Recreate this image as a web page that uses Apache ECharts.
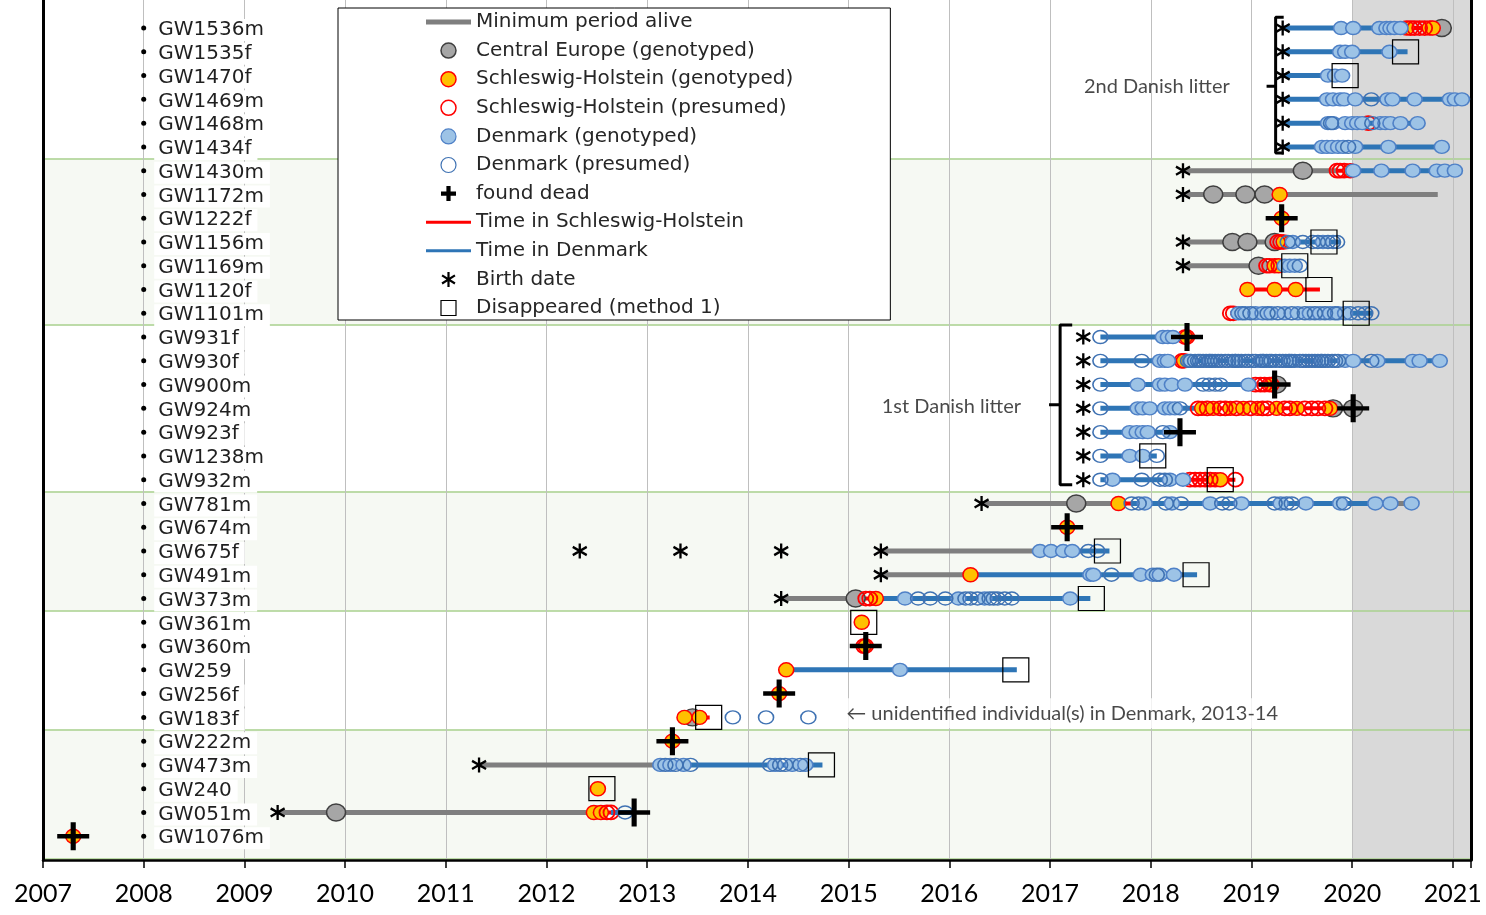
<!DOCTYPE html>
<html>
<head>
<meta charset="utf-8">
<script src="https://cdn.jsdelivr.net/npm/echarts@6/dist/echarts.min.js"></script>
<style>
  html, body { margin: 0; padding: 0; background: #fff; }
  #chart { width: 1486px; height: 915px; }
</style>
</head>
<body>
<div id="chart"></div>
<script>
// wolves, top to bottom
var rowNames = ['GW1536m', 'GW1535f', 'GW1470f', 'GW1469m', 'GW1468m', 'GW1434f', 'GW1430m', 'GW1172m',
  'GW1222f', 'GW1156m', 'GW1169m', 'GW1120f', 'GW1101m', 'GW931f', 'GW930f', 'GW900m', 'GW924m', 'GW923f',
  'GW1238m', 'GW932m', 'GW781m', 'GW674m', 'GW675f', 'GW491m', 'GW373m', 'GW361m', 'GW360m', 'GW259',
  'GW256f', 'GW183f', 'GW222m', 'GW473m', 'GW240', 'GW051m', 'GW1076m'];

var yearTicks = [2007, 2008, 2009, 2010, 2011, 2012, 2013, 2014, 2015, 2016, 2017, 2018, 2019, 2020, 2021];

// group boundaries (between rows) and shaded groups
var groupEdges = [29.5, 22.5, 15.5, 10.5, 5.5, 0.06];
var tintedGroups = [[22.5, 29.5], [10.5, 15.5], [0, 5.5]];
var greyFrom = 2020;

// [wolf, start, end] in decimal years
var grayLines = [
  ['GW1536m', 2020.80, 2020.89], ['GW1430m', 2018.32, 2019.85], ['GW1172m', 2018.32, 2020.85],
  ['GW1156m', 2018.32, 2019.23], ['GW1169m', 2018.32, 2019.07], ['GW924m', 2019.81, 2020.01],
  ['GW781m', 2016.32, 2017.68], ['GW781m', 2020.38, 2020.59], ['GW675f', 2015.32, 2016.90],
  ['GW491m', 2015.32, 2016.21], ['GW373m', 2014.33, 2015.09], ['GW473m', 2011.33, 2013.13],
  ['GW051m', 2009.33, 2012.47]
];
var redLines = [
  ['GW1536m', 2020.48, 2020.80], ['GW1468m', 2020.14, 2020.18], ['GW1430m', 2019.85, 2020.00],
  ['GW1156m', 2019.23, 2019.35], ['GW1169m', 2019.07, 2019.31], ['GW1120f', 2018.96, 2019.68],
  ['GW1101m', 2018.79, 2018.84], ['GW931f', 2018.28, 2018.36], ['GW900m', 2018.97, 2019.28],
  ['GW924m', 2018.44, 2019.81], ['GW932m', 2018.32, 2018.84], ['GW781m', 2017.68, 2017.81],
  ['GW373m', 2015.09, 2015.31], ['GW183f', 2013.37, 2013.62], ['GW051m', 2012.47, 2012.64]
];
var blueLines = [
  ['GW1536m', 2019.31, 2020.48], ['GW1535f', 2019.31, 2020.55], ['GW1470f', 2019.31, 2019.90],
  ['GW1469m', 2019.31, 2021.12], ['GW1468m', 2019.31, 2020.65], ['GW1434f', 2019.31, 2020.89],
  ['GW1430m', 2020.00, 2021.02], ['GW1156m', 2019.35, 2019.88], ['GW1169m', 2019.31, 2019.48],
  ['GW1101m', 2018.84, 2020.20], ['GW931f', 2017.50, 2018.28], ['GW930f', 2017.50, 2020.87],
  ['GW900m', 2017.50, 2018.97], ['GW924m', 2017.50, 2018.44], ['GW923f', 2017.50, 2018.29],
  ['GW1238m', 2017.50, 2018.06], ['GW932m', 2017.50, 2018.32], ['GW781m', 2017.81, 2020.38],
  ['GW675f', 2016.90, 2017.59], ['GW491m', 2016.21, 2018.46], ['GW373m', 2015.31, 2017.40],
  ['GW259', 2014.38, 2016.67], ['GW473m', 2013.13, 2014.74], ['GW051m', 2012.64, 2012.87]
];

// [wolf, year, year, ...]
var birthDates = [
  ['GW1536m', 2019.31], ['GW1535f', 2019.31], ['GW1470f', 2019.31], ['GW1469m', 2019.31],
  ['GW1468m', 2019.31], ['GW1434f', 2019.31], ['GW1430m', 2018.32], ['GW1172m', 2018.32],
  ['GW1156m', 2018.32], ['GW1169m', 2018.32], ['GW931f', 2017.33], ['GW930f', 2017.33],
  ['GW900m', 2017.33], ['GW924m', 2017.33], ['GW923f', 2017.33], ['GW1238m', 2017.33],
  ['GW932m', 2017.33], ['GW781m', 2016.32], ['GW675f', 2012.33, 2013.33, 2014.33, 2015.32],
  ['GW491m', 2015.32], ['GW373m', 2014.33], ['GW473m', 2011.33], ['GW051m', 2009.33]
];
var ceGeno = [
  ['GW1536m', 2020.89], ['GW1430m', 2019.51], ['GW1172m', 2018.62, 2018.94, 2019.13],
  ['GW1156m', 2018.81, 2018.96, 2019.23], ['GW1169m', 2019.07], ['GW900m', 2019.25],
  ['GW924m', 2019.81, 2020.01], ['GW781m', 2017.26], ['GW373m', 2015.07], ['GW183f', 2013.45],
  ['GW051m', 2009.91]
];
var shGeno = [
  ['GW1536m', 2020.54, 2020.77, 2020.80], ['GW1430m', 2019.98], ['GW1172m', 2019.28], ['GW1222f', 2019.30],
  ['GW1156m', 2019.32], ['GW1169m', 2019.23, 2019.27], ['GW1120f', 2018.96, 2019.23, 2019.44],
  ['GW931f', 2018.36], ['GW930f', 2018.33], ['GW900m', 2019.20],
  ['GW924m', 2018.51, 2018.62, 2018.79, 2018.92, 2019.06, 2019.25, 2019.45, 2019.78],
  ['GW932m', 2018.64, 2018.69], ['GW781m', 2017.68], ['GW674m', 2017.17], ['GW491m', 2016.21],
  ['GW373m', 2015.27], ['GW361m', 2015.13], ['GW360m', 2015.17], ['GW259', 2014.38], ['GW256f', 2014.31],
  ['GW183f', 2013.37, 2013.52], ['GW222m', 2013.25], ['GW240', 2012.51], ['GW051m', 2012.47, 2012.54],
  ['GW1076m', 2007.30]
];
var shPresumed = [
  ['GW1536m', 2020.58, 2020.62, 2020.67, 2020.72], ['GW1468m', 2020.16], ['GW1430m', 2019.85, 2019.88, 2019.92],
  ['GW1156m', 2019.26, 2019.29], ['GW1169m', 2019.15, 2019.18], ['GW1101m', 2018.79, 2018.82],
  ['GW931f', 2018.34], ['GW930f', 2018.31], ['GW900m', 2019.04, 2019.09, 2019.13, 2019.18],
  ['GW924m', 2018.47, 2018.56, 2018.69, 2018.74, 2018.85, 2018.99, 2019.11, 2019.16, 2019.33, 2019.38,
    2019.53, 2019.60, 2019.66, 2019.73],
  ['GW932m', 2018.39, 2018.44, 2018.49, 2018.54, 2018.59, 2018.84], ['GW360m', 2015.15],
  ['GW373m', 2015.17, 2015.21], ['GW051m', 2012.60, 2012.64]
];
var dkGeno = [
  ['GW1536m', 2019.89, 2020.01, 2020.27, 2020.34, 2020.38, 2020.42, 2020.48],
  ['GW1535f', 2019.88, 2019.93, 2020.00, 2020.37],
  ['GW1470f', 2019.76, 2019.83, 2019.90],
  ['GW1469m', 2019.75, 2019.81, 2019.88, 2019.92, 2020.03, 2020.35, 2020.40, 2020.62, 2020.97, 2021.02, 2021.09],
  ['GW1468m', 2019.76, 2019.81, 2019.93, 2020.00, 2020.05, 2020.10, 2020.28, 2020.33, 2020.38, 2020.48, 2020.65],
  ['GW1434f', 2019.70, 2019.75, 2019.80, 2019.86, 2019.91, 2020.03, 2020.36, 2020.89],
  ['GW1430m', 2020.01, 2020.29, 2020.60, 2020.84, 2020.92, 2021.02],
  ['GW1156m', 2019.41, 2019.71],
  ['GW1169m', 2019.33, 2019.38, 2019.43],
  ['GW1101m', 2018.87, 2018.94, 2019.04, 2019.11, 2019.20, 2019.33, 2019.46, 2019.58, 2019.68, 2019.78, 2019.86, 2019.93],
  ['GW931f', 2018.12, 2018.17, 2018.22],
  ['GW930f', 2018.09, 2018.14, 2018.17, 2018.39, 2018.59, 2018.84, 2019.11, 2019.38, 2019.70, 2019.93, 2020.01,
    2020.25, 2020.60, 2020.67, 2020.87],
  ['GW900m', 2017.87, 2018.09, 2018.14, 2018.21, 2018.34, 2018.97],
  ['GW924m', 2017.87, 2017.92, 2017.99, 2018.14, 2018.19, 2018.24],
  ['GW923f', 2017.79, 2017.86, 2017.92, 2017.97, 2018.19],
  ['GW1238m', 2017.79, 2017.92],
  ['GW932m', 2017.62, 2018.19, 2018.32],
  ['GW781m', 2017.94, 2018.21, 2018.59, 2018.90, 2019.29, 2019.54, 2019.88, 2020.23, 2020.38, 2020.59],
  ['GW675f', 2016.90, 2017.01, 2017.13, 2017.22],
  ['GW491m', 2017.40, 2017.43, 2017.90, 2018.02, 2018.09, 2018.23],
  ['GW373m', 2015.56, 2016.09, 2016.35, 2017.20],
  ['GW259', 2015.51],
  ['GW473m', 2013.13, 2013.23, 2013.36, 2014.27, 2014.44, 2014.57]
];
var dkPresumed = [
  ['GW1469m', 2020.19], ['GW1468m', 2019.79, 2020.20], ['GW1434f', 2019.96],
  ['GW1156m', 2019.36, 2019.51, 2019.61, 2019.66, 2019.76, 2019.81, 2019.85], ['GW1169m', 2019.48],
  ['GW1101m', 2018.91, 2018.99, 2019.16, 2019.26, 2019.40, 2019.53, 2019.63, 2019.73, 2019.83, 2019.98,
    2020.06, 2020.13, 2020.19],
  ['GW931f', 2017.50],
  ['GW930f', 2017.50, 2017.91, 2018.37, 2018.40, 2018.44, 2018.47, 2018.49, 2018.52, 2018.55, 2018.58,
    2018.61, 2018.64, 2018.67, 2018.70, 2018.74, 2018.77, 2018.81, 2018.84, 2018.87, 2018.90, 2018.94,
    2018.97, 2019.01, 2019.04, 2019.09, 2019.12, 2019.15, 2019.18, 2019.20, 2019.24, 2019.28, 2019.31,
    2019.34, 2019.37, 2019.40, 2019.43, 2019.48, 2019.51, 2019.54, 2019.57, 2019.60, 2019.63, 2019.66,
    2019.69, 2019.73, 2019.76, 2019.80, 2019.83, 2019.86, 2020.19],
  ['GW900m', 2017.50, 2018.52, 2018.58, 2018.64, 2018.69],
  ['GW924m', 2017.50, 2018.29],
  ['GW923f', 2017.50, 2018.12],
  ['GW1238m', 2017.50, 2018.06],
  ['GW932m', 2017.50, 2017.91, 2018.09, 2018.14],
  ['GW781m', 2017.81, 2017.88, 2018.15, 2018.30, 2018.71, 2018.78, 2019.23, 2019.35, 2019.40, 2019.92],
  ['GW675f', 2017.38, 2017.47],
  ['GW491m', 2017.61, 2018.06],
  ['GW373m', 2015.69, 2015.81, 2015.96, 2016.16, 2016.21, 2016.28, 2016.40, 2016.44, 2016.48, 2016.55, 2016.62],
  ['GW183f', 2013.85, 2014.18, 2014.60],
  ['GW473m', 2013.18, 2013.28, 2013.43, 2014.22, 2014.32, 2014.37, 2014.52],
  ['GW051m', 2012.78]
];
var foundDead = [
  ['GW1222f', 2019.30], ['GW931f', 2018.36], ['GW900m', 2019.23], ['GW924m', 2020.01], ['GW923f', 2018.29],
  ['GW674m', 2017.17], ['GW360m', 2015.17], ['GW256f', 2014.31], ['GW222m', 2013.25], ['GW051m', 2012.87],
  ['GW1076m', 2007.30]
];
var disappeared = [
  ['GW1535f', 2020.53], ['GW1470f', 2019.93], ['GW1156m', 2019.72], ['GW1169m', 2019.43], ['GW1120f', 2019.67],
  ['GW1101m', 2020.04], ['GW1238m', 2018.02], ['GW932m', 2018.69], ['GW675f', 2017.57], ['GW491m', 2018.45],
  ['GW373m', 2017.41], ['GW361m', 2015.15], ['GW259', 2016.66], ['GW183f', 2013.61], ['GW473m', 2014.73],
  ['GW240', 2012.55]
];

// litter brackets: [x of bar, x of hooks, x of nub, top, middle, bottom]
var litterBraces = [
  [2019.24, 2019.32, 2019.15, 35.45, 32.55, 29.74],
  [2017.10, 2017.22, 2016.99, 22.51, 19.15, 15.79]
];
var notes = [
  ['2nd Danish litter', 2018.06, 32.55],
  ['1st Danish litter', 2016.02, 19.07],
  ['\u2190 unidentified individual(s) in Denmark, 2013-14', 2017.12, 6.17]
];

var rowVal = {};
rowNames.forEach(function (n, i) { rowVal[n] = rowNames.length - i; });

function rowPts(list) {
  var out = [];
  list.forEach(function (r) {
    for (var i = 1; i < r.length; i++) out.push([r[i], rowVal[r[0]]]);
  });
  return out;
}
function rowSegs(list) {
  var out = [];
  list.forEach(function (r) {
    out.push([r[1], rowVal[r[0]]], [r[2], rowVal[r[0]]], ['-', '-']);
  });
  return out;
}
function braceSegs(list) {
  var out = [];
  list.forEach(function (b) {
    out.push([b[1], b[3]], [b[0], b[3]], [b[0], b[5]], [b[1], b[5]], ['-', '-']);
    out.push([b[0], b[4]], [b[2], b[4]], ['-', '-']);
  });
  return out;
}

var yMax = 36.18, xMax = 2021.18;
var FONT = 'DejaVu Sans';
var plusPath = 'path://M42,0H58V42H100V58H58V100H42V58H0V42H42Z';
var boldPlus = 'path://M36,0H64V36H100V64H64V100H36V64H0V36H36Z';
var starPath = 'path://M5,0L5,10M0.7,2.3L9.3,7.7M0.7,7.7L9.3,2.3';
var clear = 'rgba(255,255,255,0)';

var chart = echarts.init(document.getElementById('chart'));

function lineSeries(name, list, color, width) {
  return {
    name: name, type: 'line', data: rowSegs(list), symbol: 'none', connectNulls: false,
    silent: true, lineStyle: { color: color, width: width }, itemStyle: { color: color }, z: 2
  };
}
function dotSeries(name, list, size, style) {
  style.opacity = 1;
  return { name: name, type: 'scatter', data: rowPts(list), symbol: 'circle', symbolSize: size, silent: true, itemStyle: style, z: 3 };
}

var option = {
  animation: false,
  grid: { left: 43, right: 15, top: 0, bottom: 55 },
  xAxis: {
    type: 'value', min: 2007, max: xMax, interval: 1,
    axisLine: { onZero: false, lineStyle: { color: '#000', width: 2.5 } },
    axisTick: { length: 8, lineStyle: { color: '#000', width: 1.5 } },
    axisLabel: {
      margin: 21, color: '#000', fontSize: 25, fontFamily: 'Lato',
      formatter: function (v) { return yearTicks.indexOf(Math.round(v)) >= 0 && Math.abs(v - Math.round(v)) < 1e-6 ? String(Math.round(v)) : ''; }
    },
    splitLine: { show: true, lineStyle: { color: '#bfbfbf', width: 1 } }
  },
  yAxis: [
    { type: 'value', min: 0, max: yMax, axisLine: { show: true, onZero: false, lineStyle: { color: '#000', width: 3 } },
      axisTick: { show: false }, axisLabel: { show: false }, splitLine: { show: false } },
    { type: 'value', position: 'right', min: 0, max: yMax, axisLine: { show: true, onZero: false, lineStyle: { color: '#000', width: 3 } },
      axisTick: { show: false }, axisLabel: { show: false }, splitLine: { show: false } }
  ],
  legend: {
    orient: 'vertical', left: 338, top: 8, padding: [3, 97, 1, 88], z: 20,
    itemWidth: 45, itemHeight: 15, itemGap: 6.6, selectedMode: false,
    backgroundColor: '#fff', borderColor: '#000', borderWidth: 1, borderRadius: 0,
    textStyle: { fontFamily: FONT, fontSize: 20, lineHeight: 22, color: '#262626' },
    data: [
      { name: 'Minimum period alive', icon: 'path://M0,0H45V5H0Z', itemStyle: { color: '#7f7f7f' } },
      { name: 'Central Europe (genotyped)', itemStyle: { borderWidth: 1.5 } },
      { name: 'Schleswig-Holstein (genotyped)', itemStyle: { borderWidth: 1.5 } },
      { name: 'Schleswig-Holstein (presumed)', itemStyle: { borderWidth: 1.5 } },
      { name: 'Denmark (genotyped)', itemStyle: { borderWidth: 1.2 } },
      { name: 'Denmark (presumed)', itemStyle: { borderWidth: 1.2 } },
      { name: 'found dead', icon: boldPlus },
      { name: 'Time in Schleswig-Holstein', icon: 'path://M0,0H45V3H0Z', itemStyle: { color: '#ff0000' } },
      { name: 'Time in Denmark', icon: 'path://M0,0H45V3H0Z', itemStyle: { color: '#2e75b6' } },
      { name: 'Birth date', itemStyle: { borderWidth: 2.2 } },
      { name: 'Disappeared (method 1)', icon: 'path://M0,0H10V10H0Z', itemStyle: { borderWidth: 1.2 } }
    ]
  },
  series: [
    {
      name: 'bg', type: 'scatter', data: [], z: -2, silent: true,
      markArea: {
        silent: true, z: -2, itemStyle: { color: '#f6f9f3' },
        data: tintedGroups.map(function (g) { return [{ yAxis: g[0] }, { yAxis: g[1] }]; })
          .concat([[{ xAxis: greyFrom, itemStyle: { color: '#d9d9d9' } }, { xAxis: xMax }]])
      }
    },
    {
      name: 'edges', type: 'scatter', data: [], z: -1, silent: true,
      markLine: {
        silent: true, z: -1, symbol: 'none', label: { show: false },
        lineStyle: { color: '#a9d18e', width: 1.5, type: 'solid' },
        data: groupEdges.map(function (v) { return { yAxis: v }; })
      }
    },
    lineSeries('Minimum period alive', grayLines, '#7f7f7f', 5),
    lineSeries('Time in Schleswig-Holstein', redLines, '#ff0000', 4),
    lineSeries('Time in Denmark', blueLines, '#2e75b6', 5),
    {
      name: 'rows', type: 'scatter', silent: true, z: 2,
      data: rowNames.map(function (n) { return { name: n, value: [2008, rowVal[n]] }; }),
      symbol: 'circle', symbolSize: 5, itemStyle: { color: '#000', opacity: 1 },
      label: {
        show: true, position: 'right', distance: 8, offset: [0, 2], formatter: '{b}',
        fontFamily: FONT, fontSize: 20, color: '#1f1f1f', backgroundColor: '#fff', padding: [1, 6, 1, 4]
      }
    },
    dotSeries('Central Europe (genotyped)', ceGeno, [19, 17], { color: '#a6a6a6', borderColor: '#3f3f3f', borderWidth: 1.5 }),
    dotSeries('Schleswig-Holstein (genotyped)', shGeno, [15, 14], { color: '#ffc000', borderColor: '#ff0000', borderWidth: 1.5 }),
    dotSeries('Schleswig-Holstein (presumed)', shPresumed, [15, 14], { color: clear, borderColor: '#ff0000', borderWidth: 1.8 }),
    dotSeries('Denmark (genotyped)', dkGeno, [15, 13], { color: '#9dc3e6', borderColor: '#4f81c7', borderWidth: 1.5 }),
    dotSeries('Denmark (presumed)', dkPresumed, [15, 13], { color: clear, borderColor: '#3f72b3', borderWidth: 1.5 }),
    {
      name: 'found dead', type: 'scatter', data: rowPts(foundDead), symbol: plusPath, symbolSize: [32, 28],
      silent: true, z: 4, itemStyle: { color: '#000', opacity: 1 }
    },
    {
      name: 'Birth date', type: 'scatter', data: rowPts(birthDates), symbol: starPath, symbolSize: [14, 15],
      silent: true, z: 4, itemStyle: { color: clear, borderColor: '#000', borderWidth: 2.4, opacity: 1 }
    },
    {
      name: 'Disappeared (method 1)', type: 'scatter', data: rowPts(disappeared), symbol: 'rect', symbolSize: [26, 24],
      silent: true, z: 4, itemStyle: { color: clear, borderColor: '#000', borderWidth: 1.2, opacity: 1 }
    },
    {
      name: 'braces', type: 'line', data: braceSegs(litterBraces), symbol: 'none', connectNulls: false,
      silent: true, z: 4, lineStyle: { color: '#000', width: 3 }
    },
    {
      name: 'notes', type: 'scatter', symbolSize: 0, silent: true, z: 5,
      data: notes.map(function (t, i) {
        var d = { name: t[0], value: [t[1], t[2]] };
        if (i === 2) d.label = { backgroundColor: '#fff', padding: [5, 12] };
        return d;
      }),
      label: { show: true, position: 'inside', formatter: '{b}', fontFamily: 'Lato', fontSize: 20, color: '#1a1a1a' }
    }
  ]
};

chart.setOption(option);
</script>
</body>
</html>
